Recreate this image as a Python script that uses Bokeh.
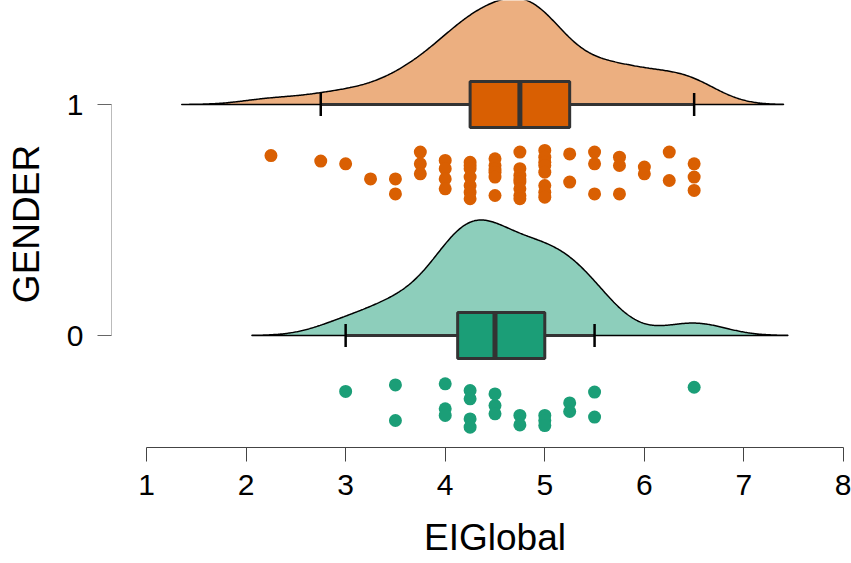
import numpy as np
from bokeh.plotting import figure
from bokeh.models import Range1d, FixedTicker, ColumnDataSource, Title
from bokeh.embed import file_html
from bokeh.resources import INLINE

# ---------------- data ----------------
x_ticks = [1, 2, 3, 4, 5, 6, 7, 8]
y_ticks = [0, 1]
groups = ["0", "1"]
x_title = "EIGlobal"
y_title = "GENDER"

# GENDER = 1 (orange): EIGlobal scores and vertical jitter offsets
eig_g1 = [2.25, 2.75, 3.0, 3.25,
          3.5, 3.5,
          3.75, 3.75, 3.75,
          4.0, 4.0, 4.0, 4.0,
          4.25, 4.25, 4.25, 4.25, 4.25, 4.25, 4.25,
          4.5, 4.5, 4.5, 4.5, 4.5, 4.5,
          4.75, 4.75, 4.75, 4.75, 4.75, 4.75, 4.75, 4.75,
          5.0, 5.0, 5.0, 5.0, 5.0, 5.0, 5.0, 5.0,
          5.25, 5.25,
          5.5, 5.5, 5.5,
          5.75, 5.75, 5.75,
          6.0, 6.0,
          6.25, 6.25,
          6.5, 6.5, 6.5]
jit_g1 = [-0.221, -0.245, -0.257, -0.322,
          -0.322, -0.387,
          -0.206, -0.257, -0.300,
          -0.242, -0.278, -0.322, -0.365,
          -0.250, -0.264, -0.278, -0.314, -0.351, -0.380, -0.408,
          -0.235, -0.264, -0.279, -0.293, -0.314, -0.394,
          -0.206, -0.278, -0.307, -0.322, -0.336, -0.365, -0.394, -0.408,
          -0.199, -0.228, -0.250, -0.264, -0.293, -0.351, -0.380, -0.401,
          -0.214, -0.336,
          -0.206, -0.257, -0.387,
          -0.228, -0.264, -0.387,
          -0.271, -0.300,
          -0.206, -0.329,
          -0.257, -0.314, -0.372]

# GENDER = 0 (green)
eig_g0 = [3.0,
          3.5, 3.5,
          4.0, 4.0, 4.0,
          4.25, 4.25, 4.25, 4.25,
          4.5, 4.5, 4.5,
          4.75, 4.75,
          5.0, 5.0, 5.0,
          5.25, 5.25,
          5.5, 5.5,
          6.5]
jit_g0 = [-0.242,
          -0.214, -0.368,
          -0.209, -0.317, -0.346,
          -0.238, -0.274, -0.361, -0.397,
          -0.253, -0.303, -0.339,
          -0.346, -0.387,
          -0.346, -0.368, -0.390,
          -0.292, -0.329,
          -0.245, -0.353,
          -0.224]

# ---------------- styling / layout ----------------
FONT = "Liberation Sans"
dark_col = {"0": "#1B9E77", "1": "#D95F02"}
light_col = {"0": "#8DCEBB", "1": "#ECAF80"}
BOX_HALF = 0.1
CAP_HALF = 0.05
VIOLIN_PEAK = 0.50  # height of the tallest density (data units)

W, H = 851, 563
FL, FR, FT, FB = 111, 846, 0, 447          # frame edges in page pixels
PX_X = 697 / 7.0                           # pixels per x unit
PX_Y = 231.0                               # pixels per y unit
x_lo = 1 - (146 - FL) / PX_X
x_hi = x_lo + (FR - FL) / PX_X
y_hi = 1 + (104 - FT) / PX_Y
y_lo = y_hi - (FB - FT) / PX_Y

p = figure(width=W, height=H, x_range=Range1d(x_lo, x_hi),
           y_range=Range1d(y_lo, y_hi), output_backend="svg",
           toolbar_location=None, min_border_left=FL, min_border_right=W - FR,
           min_border_top=FT, min_border_bottom=H - FB)
p.grid.visible = False
p.outline_line_color = None
p.background_fill_color = "white"
p.border_fill_color = "white"

def kde_nrd0(data):
    d = np.asarray(data, dtype=float)
    n = len(d)
    q1, q3 = np.percentile(d, [25, 75])
    bw = 0.9 * min(np.std(d, ddof=1), (q3 - q1) / 1.34) * n ** (-0.2)
    xs = np.linspace(d.min() - 3 * bw, d.max() + 3 * bw, 512)
    ys = np.exp(-0.5 * ((xs[:, None] - d[None, :]) / bw) ** 2).sum(axis=1)
    ys /= (n * bw * np.sqrt(2 * np.pi))
    return xs, ys

data = {"0": (eig_g0, jit_g0), "1": (eig_g1, jit_g1)}
kdes = {g: kde_nrd0(data[g][0]) for g in groups}
dmax = max(kdes[g][1].max() for g in groups)

for gi, g in enumerate(groups):
    base = float(y_ticks[gi])
    vals, jit = data[g]
    xs, ys = kdes[g]
    yy = base + ys / dmax * VIOLIN_PEAK
    px = np.concatenate([xs, xs[::-1]])
    py = np.concatenate([yy, np.full_like(xs, base)])
    p.patch(px, py, fill_color=light_col[g], line_color="black", line_width=1.5)

    arr = np.asarray(vals, dtype=float)
    q1, med, q3 = np.percentile(arr, [25, 50, 75])
    iqr = q3 - q1
    w_lo = arr[arr >= q1 - 1.5 * iqr].min()
    w_hi = arr[arr <= q3 + 1.5 * iqr].max()

    p.segment(x0=[w_lo, q3], y0=[base, base], x1=[q1, w_hi], y1=[base, base],
              line_color="#333333", line_width=3)
    p.segment(x0=[w_lo, w_hi], y0=[base - CAP_HALF] * 2, x1=[w_lo, w_hi],
              y1=[base + CAP_HALF] * 2, line_color="black", line_width=2.5)
    p.quad(left=[q1], right=[q3], bottom=[base - BOX_HALF], top=[base + BOX_HALF],
           fill_color=dark_col[g], line_color="#333333", line_width=3)
    p.segment(x0=[med], y0=[base - BOX_HALF], x1=[med], y1=[base + BOX_HALF],
              line_color="#333333", line_width=5)
    src = ColumnDataSource(dict(x=arr, y=base + np.asarray(jit)))
    p.scatter("x", "y", source=src, size=13, fill_color=dark_col[g],
              line_color=None)

# axes
p.xaxis.ticker = FixedTicker(ticks=x_ticks)
p.xaxis.bounds = (min(x_ticks), max(x_ticks))
p.xaxis.axis_line_color = "#444444"
p.xaxis.major_tick_line_color = "#444444"
p.xaxis.major_tick_out = 14
p.xaxis.major_tick_in = 0
p.xaxis.minor_tick_line_color = None
p.xaxis.major_label_text_font = FONT
p.xaxis.major_label_text_font_size = "30px"
p.xaxis.major_label_text_color = "black"
p.xaxis.major_label_standoff = 13

p.yaxis.ticker = FixedTicker(ticks=y_ticks)
p.yaxis.major_label_overrides = {0: groups[0], 1: groups[1]}
p.yaxis.bounds = (min(y_ticks), max(y_ticks))
p.yaxis.axis_line_color = "#BBBBBB"
p.yaxis.major_tick_line_color = "#666666"
p.yaxis.major_tick_out = 14
p.yaxis.major_tick_in = 0
p.yaxis.minor_tick_line_color = None
p.yaxis.major_label_text_font = FONT
p.yaxis.major_label_text_font_size = "30px"
p.yaxis.major_label_text_color = "black"
p.yaxis.major_label_standoff = 14
p.yaxis.axis_label = y_title
p.yaxis.axis_label_text_font = FONT
p.yaxis.axis_label_text_font_size = "37px"
p.yaxis.axis_label_text_font_style = "normal"
p.yaxis.axis_label_text_color = "black"
p.yaxis.axis_label_standoff = 17

# x title centred on the axis span (1..8), placed as a title below the axis;
# a blank spacer title above it sets the gap between tick labels and title
TITLE_PX = 37
title_w = 3.835 * TITLE_PX                  # approx. advance width of the text
xmid_px = 146 + ((min(x_ticks) + max(x_ticks)) / 2 - 1) * PX_X
p.add_layout(Title(text=" ", text_font=FONT, text_font_size="22px",
                   standoff=0), "below")
p.add_layout(Title(text=x_title, align="left", vertical_align="top",
                   offset=xmid_px - FL - title_w / 2,
                   text_font=FONT, text_font_size=f"{TITLE_PX}px",
                   text_font_style="normal", text_color="black", standoff=-15),
             "below")

open("out.html", "w").write(file_html(p, INLINE))
